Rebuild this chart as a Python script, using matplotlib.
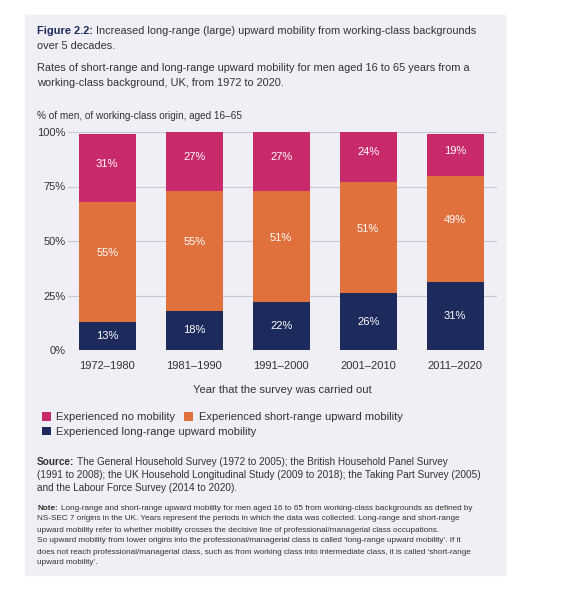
import matplotlib.pyplot as plt
from matplotlib.patches import Rectangle

plt.rcParams['font.family'] = ['Liberation Sans', 'DejaVu Sans']

# data
periods = ["1972–1980", "1981–1990", "1991–2000", "2001–2010", "2011–2020"]
long_range = [13, 18, 22, 26, 31]
short_range = [55, 55, 51, 51, 49]
no_mobility = [31, 27, 27, 24, 19]

c_long = "#1c2a5c"
c_short = "#e0703c"
c_no = "#c82a6c"
bg = "#efeff5"
txt = "#333333"

fig = plt.figure(figsize=(5.61, 6), dpi=100)
fig.patches.append(Rectangle((25 / 561, 1 - 575 / 600), 480 / 561, 560 / 600,
                             transform=fig.transFigure, color=bg, zorder=-10))
renderer = fig.canvas.get_renderer()


def bold_lead(x, y, head, rest, size, head_color):
    t = fig.text(x, y, head, color=head_color, fontsize=size, fontweight="bold", va="center")
    bb = t.get_window_extent(renderer)
    fig.text(bb.x1 / fig.bbox.width + 3 / 561, y, rest, color=txt, fontsize=size, va="center")


X0 = 37 / 561
bold_lead(X0, 1 - 31 / 600, "Figure 2.2:",
          "Increased long-range (large) upward mobility from working-class backgrounds", 7.9, "#1c2a5c")
fig.text(X0, 1 - 46 / 600, "over 5 decades.", color=txt, fontsize=7.9, va="center")
fig.text(X0, 1 - 68 / 600, "Rates of short-range and long-range upward mobility for men aged 16 to 65 years from a",
         color=txt, fontsize=7.9, va="center")
fig.text(X0, 1 - 83 / 600, "working-class background, UK, from 1972 to 2020.", color=txt, fontsize=7.9, va="center")
fig.text(X0, 1 - 116 / 600, "% of men, of working-class origin, aged 16–65", color=txt, fontsize=7.2, va="center")

ax = fig.add_axes([68 / 561, 1 - 350 / 600, 429 / 561, 218 / 600])
ax.set_zorder(1)
ax.set_facecolor(bg)
x = range(len(periods))
w = 0.655
b1 = ax.bar(x, long_range, w, color=c_long, zorder=3)
bot2 = [a for a in long_range]
b2 = ax.bar(x, short_range, w, bottom=bot2, color=c_short, zorder=3)
bot3 = [a + b for a, b in zip(long_range, short_range)]
b3 = ax.bar(x, no_mobility, w, bottom=bot3, color=c_no, zorder=3)

for i in x:
    ax.text(i, long_range[i] / 2, f"{long_range[i]}%", ha="center", va="center", color="white", fontsize=8, zorder=4)
    ax.text(i, bot2[i] + short_range[i] / 2 + 4, f"{short_range[i]}%", ha="center", va="center", color="white", fontsize=8, zorder=4)
    ax.text(i, bot3[i] + no_mobility[i] / 2 + 2, f"{no_mobility[i]}%", ha="center", va="center", color="white", fontsize=8, zorder=4)

ax.set_ylim(0, 100)
ax.set_xlim(-0.45, 4.48)
ax.set_yticks([0, 25, 50, 75, 100])
ax.set_yticklabels(["0%", "25%", "50%", "75%", "100%"])
ax.set_xticks(list(x))
ax.set_xticklabels(periods)
ax.tick_params(length=0, labelsize=8, colors=txt)
ax.tick_params(axis="y", pad=2)
ax.tick_params(axis="x", pad=8)
ax.grid(axis="y", color="#c8c8d0", linewidth=0.8, zorder=0)
for s in ax.spines.values():
    s.set_visible(False)
ax.set_xlabel("Year that the survey was carried out", fontsize=8, color=txt, labelpad=10)

fig.legend([b3, b2], ["Experienced no mobility", "Experienced short-range upward mobility"],
           loc="upper left", bbox_to_anchor=(32 / 561, 1 - 402 / 600), ncol=2, frameon=False,
           fontsize=8, handlelength=0.8, handleheight=0.8, handletextpad=0.5, columnspacing=0.8, labelcolor=txt)
fig.legend([b1], ["Experienced long-range upward mobility"],
           loc="upper left", bbox_to_anchor=(32 / 561, 1 - 417 / 600), frameon=False,
           fontsize=8, handlelength=0.8, handleheight=0.8, handletextpad=0.5, labelcolor=txt)

src = ["The General Household Survey (1972 to 2005); the British Household Panel Survey",
       "(1991 to 2008); the UK Household Longitudinal Study (2009 to 2018); the Taking Part Survey (2005)",
       "and the Labour Force Survey (2014 to 2020)."]
bold_lead(X0, 1 - 462 / 600, "Source:", src[0], 7.2, txt)
fig.text(X0, 1 - 475 / 600, src[1], color=txt, fontsize=7.2, va="center")
fig.text(X0, 1 - 488 / 600, src[2], color=txt, fontsize=7.2, va="center")

note = ["Long-range and short-range upward mobility for men aged 16 to 65 from working-class backgrounds as defined by",
        "NS-SEC 7 origins in the UK. Years represent the periods in which the data was collected. Long-range and short-range",
        "upward mobility refer to whether mobility crosses the decisive line of professional/managerial class occupations.",
        "So upward mobility from lower origins into the professional/managerial class is called ‘long-range upward mobility’. If it",
        "does not reach professional/managerial class, such as from working class into intermediate class, it is called ‘short-range",
        "upward mobility’."]
bold_lead(X0, 1 - 508 / 600, "Note:", note[0], 5.85, txt)
for k, line in enumerate(note[1:]):
    fig.text(X0, 1 - (519 + 11 * k) / 600, line, color=txt, fontsize=5.85, va="center")

fig.savefig("out.png", dpi=100, facecolor="white")
